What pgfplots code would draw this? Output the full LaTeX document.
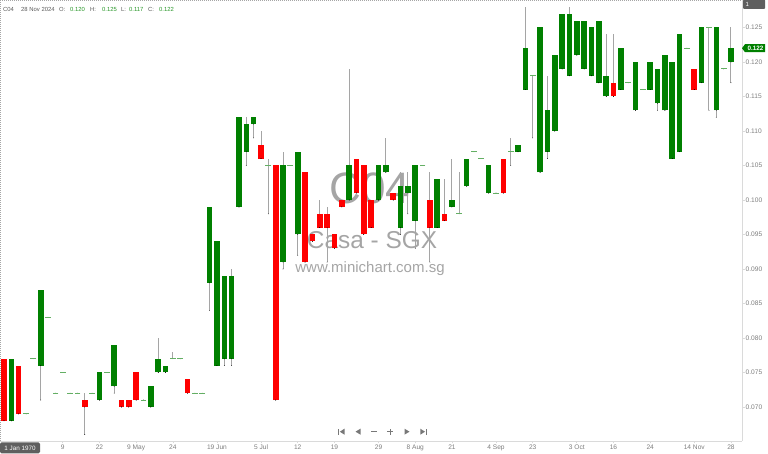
\documentclass[border=0pt]{standalone}
\usepackage{fontspec}
\setmainfont{Liberation Sans}
\usepackage{pgfplots}
\pgfplotsset{compat=1.18}
\usepackage{pgfplotstable}

\definecolor{upgreen}{RGB}{0,128,0}
\definecolor{downred}{RGB}{255,0,0}
\definecolor{wickgray}{RGB}{165,165,165}
\definecolor{dojigreen}{RGB}{100,175,100}
\definecolor{axisgray}{RGB}{218,218,218}
\definecolor{labelgray}{RGB}{125,125,125}
\definecolor{wmgray}{RGB}{165,165,165}
\definecolor{hdrgray}{RGB}{90,90,90}
\definecolor{hdrgreen}{RGB}{40,150,40}
\definecolor{boxgray}{RGB}{95,95,95}
\definecolor{navgray}{RGB}{120,120,120}

% weekly candles, index 0 = first bar on the left
\pgfplotstableread{
i  o     h     l     c
1  0.068 0.077 0.068 0.077
5  0.076 0.087 0.071 0.087
13 0.071 0.075 0.071 0.075
15 0.073 0.079 0.072 0.079
20 0.070 0.073 0.070 0.073
21 0.075 0.080 0.075 0.077
22 0.075 0.076 0.075 0.076
28 0.088 0.099 0.084 0.099
29 0.076 0.094 0.076 0.094
30 0.077 0.089 0.076 0.089
31 0.077 0.090 0.076 0.089
32 0.099 0.112 0.099 0.112
33 0.107 0.112 0.105 0.111
34 0.111 0.112 0.109 0.112
38 0.091 0.107 0.090 0.105
40 0.095 0.107 0.092 0.107
47 0.100 0.119 0.100 0.105
51 0.100 0.105 0.100 0.105
52 0.104 0.109 0.104 0.105
54 0.096 0.104 0.095 0.102
55 0.101 0.104 0.098 0.102
56 0.097 0.105 0.093 0.105
59 0.096 0.103 0.096 0.103
61 0.099 0.106 0.099 0.100
63 0.102 0.106 0.102 0.106
66 0.101 0.105 0.101 0.105
70 0.107 0.108 0.107 0.108
71 0.116 0.128 0.116 0.122
73 0.104 0.125 0.104 0.125
74 0.107 0.118 0.106 0.113
75 0.110 0.121 0.110 0.121
76 0.119 0.127 0.119 0.127
77 0.118 0.128 0.118 0.127
78 0.121 0.126 0.121 0.126
79 0.119 0.126 0.119 0.126
80 0.118 0.125 0.118 0.125
81 0.117 0.126 0.117 0.126
82 0.115 0.124 0.115 0.118
84 0.116 0.122 0.116 0.122
86 0.113 0.120 0.113 0.120
88 0.116 0.120 0.116 0.120
89 0.114 0.119 0.113 0.119
90 0.113 0.121 0.113 0.121
91 0.106 0.120 0.106 0.120
92 0.107 0.124 0.107 0.124
95 0.117 0.125 0.117 0.125
97 0.113 0.125 0.112 0.125
99 0.120 0.125 0.117 0.122
}\upcandles

\pgfplotstableread{
i  o     h     l     c
0  0.077 0.077 0.068 0.068
2  0.076 0.076 0.069 0.069
11 0.071 0.072 0.066 0.070
16 0.071 0.071 0.070 0.070
17 0.071 0.071 0.070 0.070
18 0.075 0.075 0.071 0.071
25 0.074 0.074 0.072 0.072
35 0.108 0.110 0.106 0.106
37 0.105 0.105 0.071 0.071
41 0.104 0.104 0.091 0.091
42 0.095 0.095 0.094 0.094
43 0.098 0.100 0.096 0.096
44 0.098 0.099 0.091 0.096
45 0.095 0.095 0.093 0.093
46 0.100 0.100 0.099 0.099
48 0.106 0.106 0.101 0.101
49 0.105 0.105 0.095 0.095
50 0.100 0.100 0.096 0.096
53 0.101 0.101 0.100 0.100
58 0.100 0.104 0.091 0.096
60 0.098 0.103 0.097 0.097
68 0.106 0.106 0.101 0.101
83 0.117 0.124 0.115 0.115
94 0.119 0.119 0.116 0.116
}\downcandles

\pgfplotstableread{
i  o     h     l     c
3  0.069 0.069 0.069 0.069
4  0.077 0.077 0.077 0.077
6  0.083 0.083 0.083 0.083
7  0.072 0.072 0.072 0.072
8  0.075 0.075 0.075 0.075
9  0.072 0.072 0.072 0.072
10 0.072 0.072 0.072 0.072
12 0.072 0.072 0.072 0.072
14 0.075 0.075 0.075 0.075
19 0.071 0.071 0.071 0.071
23 0.077 0.078 0.077 0.077
24 0.077 0.077 0.077 0.077
26 0.072 0.072 0.072 0.072
27 0.072 0.072 0.072 0.072
36 0.105 0.106 0.098 0.105
39 0.105 0.105 0.105 0.105
57 0.105 0.105 0.105 0.105
62 0.098 0.104 0.098 0.098
64 0.107 0.107 0.107 0.107
65 0.106 0.106 0.106 0.106
67 0.101 0.101 0.101 0.101
69 0.107 0.109 0.105 0.107
72 0.118 0.118 0.109 0.118
85 0.117 0.117 0.117 0.117
87 0.116 0.116 0.116 0.116
93 0.122 0.122 0.122 0.122
96 0.125 0.125 0.113 0.125
98 0.119 0.119 0.119 0.119
}\dojicandles

\pgfplotsset{
  candle/.style={only marks, mark=*, mark size=0.1pt,
    mark options={draw=none, fill=none},
    error bars/.cd, y dir=plus, y explicit, error mark=none,
    error bar style={#1}},
}

\begin{document}
\begin{tikzpicture}
% watermark, behind the candles
\node[wmgray, font=\fontsize{44}{44}\selectfont] at (370pt,253pt) {C04};
\node[wmgray, font=\fontsize{24.4}{25}\selectfont] at (372pt,201pt) {Casa - SGX};
\node[wmgray, font=\fontsize{15}{16}\selectfont] at (370pt,172pt) {www.minichart.com.sg};

\begin{axis}[
    at={(0,0)}, anchor=south west,
    width=742pt, height=441pt, scale only axis,
    xmin=-0.545, xmax=100.5,
    ymin=0.065072, ymax=0.128986,
    enlargelimits=false,
    axis x line*=bottom, axis y line*=right,
    axis line style={axisgray, line width=0.8pt, -},
    tick align=outside, major tick length=2.5pt,
    tick style={axisgray, line width=0.6pt},
    xtick={8,13,18,23,29,35,40,45,51,56,61,67,72,78,83,88,94,99},
    xticklabels={9,22,9 May,24,19 Jun,5 Jul,12,19,29,8 Aug,21,4 Sep,23,3 Oct,16,24,14 Nov,28},
    ytick={0.070,0.075,0.080,0.085,0.090,0.095,0.100,0.105,0.110,0.115,0.120,0.125},
    scaled y ticks=false,
    yticklabel style={/pgf/number format/.cd, fixed, fixed zerofill, precision=3,
        assume math mode=true},
    ticklabel style={font=\fontsize{6.6}{7}\selectfont, text=labelgray, inner sep=1pt},
    clip=false,
]
% wicks
\addplot[candle={line width=1pt, draw=wickgray}]
    table[x=i, y=l, y error expr=\thisrow{h}-\thisrow{l}] {\upcandles};
\addplot[candle={line width=1pt, draw=wickgray}]
    table[x=i, y=l, y error expr=\thisrow{h}-\thisrow{l}] {\downcandles};
\addplot[candle={line width=1pt, draw=wickgray}]
    table[x=i, y=l, y error expr=\thisrow{h}-\thisrow{l}] {\dojicandles};
% bodies
\addplot[candle={line width=5.6pt, draw=upgreen}]
    table[x=i, y=o, y error expr=\thisrow{c}-\thisrow{o}] {\upcandles};
\addplot[candle={line width=5.6pt, draw=downred}]
    table[x=i, y=c, y error expr=\thisrow{o}-\thisrow{c}] {\downcandles};
\addplot[only marks, mark=-, mark size=2.9pt, mark options={draw=dojigreen, line width=1pt}]
    table[x=i, y=c] {\dojicandles};
\coordinate (last) at (axis cs:100.5,0.122);
\end{axis}

% frame bits
\draw[gray!70, line width=0.6pt, dash pattern=on 1pt off 1pt] (0,441pt) -- (742pt,441pt);
\draw[gray!70, line width=0.6pt, dash pattern=on 1pt off 1pt] (0.3pt,0) -- (0.3pt,441pt);

% header line
\begin{scope}[every node/.style={anchor=west, inner sep=0pt, font=\fontsize{5.9}{6.5}\selectfont}]
\node[hdrgray]  at (3pt,431.7pt)  {C04};
\node[hdrgray]  at (21pt,431.7pt) {28 Nov 2024};
\node[hdrgray]  at (59pt,431.7pt) {O:};
\node[hdrgreen] at (70pt,431.7pt) {0.120};
\node[hdrgray]  at (90pt,431.7pt) {H:};
\node[hdrgreen] at (102pt,431.7pt) {0.125};
\node[hdrgray]  at (121pt,431.7pt) {L:};
\node[hdrgreen] at (129pt,431.7pt) {0.117};
\node[hdrgray]  at (148pt,431.7pt) {C:};
\node[hdrgreen] at (159pt,431.7pt) {0.122};
\end{scope}

% top right box
\fill[boxgray, rounded corners=1pt] (743pt,432pt) rectangle (765pt,441.5pt);
\node[white, anchor=west, inner sep=0pt, font=\fontsize{6}{6}\selectfont] at (745.5pt,436.5pt) {1};

% last price tag
\fill[upgreen] (last) -- ++(3pt,4pt) -- ++(20pt,0) -- ++(0,-8pt) -- ++(-20pt,0) -- cycle;
\node[white, inner sep=0pt, font=\bfseries\fontsize{6.3}{6.5}\selectfont] at ([xshift=13.5pt]last) {0.122};

% bottom left date box
\fill[boxgray, rounded corners=1.5pt] (0,-12.3pt) rectangle (40pt,-1.5pt);
\node[white, inner sep=0pt, font=\fontsize{6.3}{6.5}\selectfont] at (20pt,-6.9pt) {1 Jan 1970};

% navigation buttons
\begin{scope}[navgray]
\fill (338pt,6.3pt) rectangle (339.2pt,12.3pt);
\fill (339.8pt,9.3pt) -- (344.5pt,12.3pt) -- (344.5pt,6.3pt) -- cycle;
\fill (355.5pt,9.3pt) -- (360.5pt,12.3pt) -- (360.5pt,6.3pt) -- cycle;
\draw[line width=0.9pt] (371pt,9.3pt) -- (377pt,9.3pt);
\draw[line width=0.9pt] (387pt,9.3pt) -- (393pt,9.3pt) (390pt,6.3pt) -- (390pt,12.3pt);
\fill (409.5pt,9.3pt) -- (404.5pt,12.3pt) -- (404.5pt,6.3pt) -- cycle;
\fill (425pt,9.3pt) -- (420.3pt,12.3pt) -- (420.3pt,6.3pt) -- cycle;
\fill (425.6pt,6.3pt) rectangle (426.8pt,12.3pt);
\end{scope}

\pgfresetboundingbox
\useasboundingbox (0,-13pt) rectangle (768pt,441pt);
\end{tikzpicture}
\end{document}
